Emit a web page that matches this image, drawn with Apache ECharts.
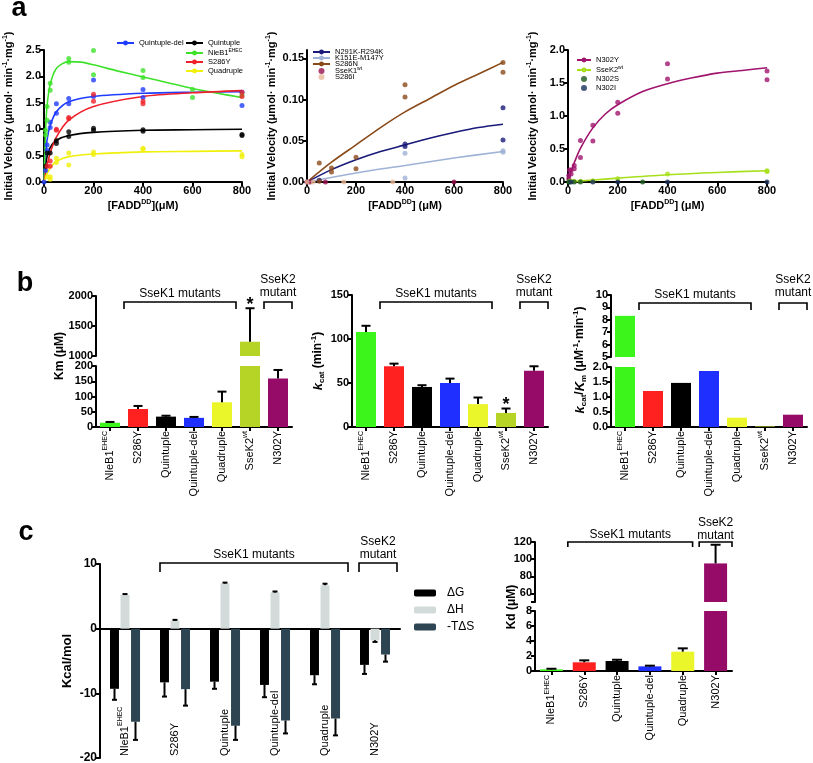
<!DOCTYPE html>
<html>
<head>
<meta charset="utf-8">
<script src="https://cdn.jsdelivr.net/npm/echarts@6.0.0/dist/echarts.min.js"></script>
<style>
html,body{margin:0;padding:0;background:#fff;}
#chart{width:813px;height:763px;}
</style>
</head>
<body>
<div id="chart"></div>
<script>
// ===================== DATA =====================
// ---- Panel a, left: initial velocity vs [FADD-DD] ----
const a1Names = ['Quintuple-del', 'Quintuple', 'NleB1EHEC', 'S286Y', 'Quadruple'];
const a1CurveQuintDel = [[0,0],[6.25,0.45],[12.5,0.8],[25,1.07],[50,1.33],[100,1.52],[200,1.62],[400,1.68],[600,1.70],[800,1.71]];
const a1CurveQuint    = [[0,0],[6.25,0.3],[12.5,0.48],[25,0.65],[50,0.79],[100,0.88],[200,0.94],[400,0.98],[600,0.99],[800,1.0]];
const a1CurveNleB1    = [[0,0],[6.25,0.95],[12.5,1.45],[25,1.85],[50,2.15],[100,2.28],[150,2.27],[200,2.22],[300,2.1],[400,1.99],[500,1.88],[600,1.77],[700,1.68],[800,1.6]];
const a1CurveS286Y    = [[0,0],[12.5,0.32],[25,0.55],[50,0.85],[100,1.17],[200,1.43],[400,1.62],[600,1.69],[800,1.73]];
const a1CurveQuad     = [[0,0],[12.5,0.15],[25,0.27],[50,0.39],[100,0.48],[200,0.53],[400,0.57],[600,0.58],[800,0.59]];
const a1PtsQuintDel = [[0,0],[6.25,0.22],[12.5,0.6],[12.5,0.7],[25,1.03],[25,1.13],[50,1.3],[50,1.48],[100,1.48],[100,1.58],[200,1.93],[200,1.62],[400,1.75],[400,1.6],[800,1.45],[800,1.7]];
const a1PtsQuint    = [[6.25,0.3],[12.5,0.55],[25,0.55],[50,0.78],[50,0.73],[100,0.95],[100,0.86],[200,1.02],[200,0.98],[400,0.99],[400,0.96],[800,0.9],[800,0.88]];
const a1PtsNleB1    = [[6.25,0.98],[6.25,0.89],[12.5,1.17],[12.5,1.43],[25,1.74],[25,1.87],[100,2.34],[100,2.27],[200,2.49],[200,2.03],[400,2.11],[400,1.98],[600,1.75],[600,1.6],[800,1.65]];
const a1PtsS286Y    = [[12.5,0.3],[25,0.3],[25,0.4],[50,0.98],[50,1.0],[100,1.2],[100,1.22],[200,1.66],[200,1.53],[400,1.53],[400,1.48],[800,1.7],[800,1.62]];
const a1PtsQuad     = [[12.5,0.1],[25,0.1],[25,0.05],[50,0.45],[50,0.37],[100,0.55],[100,0.32],[200,0.57],[200,0.52],[400,0.64],[400,0.62],[800,0.52],[800,0.48]];

// ---- Panel a, middle ----
const a2Names = ['N291K-R294K', 'K151E-M147Y', 'S286N', 'SseK1wt', 'S286I'];
const a2CurveN291K = [[0,0],[100,0.015],[200,0.027],[300,0.037],[400,0.045],[500,0.053],[600,0.06],[700,0.066],[800,0.07]];
const a2CurveK151E = [[0,0],[200,0.011],[400,0.02],[600,0.029],[800,0.037]];
const a2CurveS286N = [[0,0],[100,0.024],[200,0.045],[300,0.066],[400,0.085],[500,0.101],[600,0.117],[700,0.131],[800,0.145]];
const a2PtsN291K = [[0,0],[50,0.002],[400,0.046],[400,0.043],[800,0.09],[800,0.051]];
const a2PtsK151E = [[400,0.035],[400,0.005],[800,0.038],[800,0.036]];
const a2PtsS286N = [[50,0.023],[50,0.001],[100,0.017],[100,0.012],[200,0.03],[200,0.016],[400,0.118],[400,0.103],[800,0.145],[800,0.133]];
const a2PtsSseK1 = [[0,0],[12.5,0],[75,0],[600,0]];
const a2PtsS286I = [[0,0],[25,0],[150,0],[350,0]];

// ---- Panel a, right ----
const a3Names = ['N302Y', 'SseK2wt', 'N302S', 'N302I'];
const a3CurveN302Y = [[0,0],[12.5,0.16],[25,0.29],[50,0.51],[100,0.82],[150,1.03],[200,1.17],[300,1.37],[400,1.49],[500,1.58],[600,1.65],[700,1.69],[800,1.73]];
const a3CurveSseK2 = [[0,0],[100,0.03],[200,0.058],[400,0.11],[600,0.145],[800,0.17]];
const a3PtsN302Y = [[3.125,0.1],[3.125,0.05],[6.25,0.18],[12.5,0.12],[12.5,0.18],[25,0.2],[25,0.25],[50,0.63],[50,0.37],[100,0.86],[100,0.62],[200,1.21],[200,1.04],[400,1.79],[400,1.56],[800,1.68],[800,1.55]];
const a3PtsSseK2 = [[6.25,0.01],[12.5,0.01],[25,0.01],[50,0.01],[100,0.02],[200,0.05],[400,0.12],[800,0.16],[800,0.17]];
const a3PtsN302S = [[3.125,0],[6.25,0],[25,0],[50,0],[300,0]];
const a3PtsN302I = [[12.5,0],[100,0],[200,0],[400,0],[800,0]];

// ---- Panel b ----
const bCats    = ['NleB1EHEC', 'S286Y', 'Quintuple', 'Quintuple-del', 'Quadruple', 'SseK2wt', 'N302Y'];
const kmVal    = [14, 59, 34, 30, 81, 1238, 159];
const kmErr    = [16.5, 69, 37, 33, 116, 1796, 187];
const kmStar   = [0, 0, 0, 0, 0, 1, 0];
const kcatVal  = [108, 69, 45.5, 50, 26, 16, 64];
const kcatErr  = [115, 72, 47.5, 55, 33.5, 21, 69];
const kcatStar = [0, 0, 0, 0, 0, 1, 0];
const effVal   = [8.32, 1.2, 1.47, 1.87, 0.31, 0.02, 0.41];

// ---- Panel c ----
const cCats    = ['NleB1EHEC', 'S286Y', 'Quintuple', 'Quintuple-del', 'Quadruple', 'N302Y'];
const dGVal    = [-9.3, -8.3, -8.2, -8.7, -7.2, -5.6];
const dGErr    = [-11.0, -10.5, -9.3, -10.6, -8.6, -7.0];
const dHVal    = [5.2, 1.24, 7.0, 5.6, 6.7, -1.8];
const dHErr    = [5.35, 1.36, 7.12, 5.75, 6.95, -2.05];
const tdSVal   = [-14.4, -9.35, -15.0, -14.2, -13.9, -4.0];
const tdSErr   = [-17.2, -11.9, -17.2, -16.2, -16.5, -5.1];
const kdVal    = [0.22, 1.16, 1.33, 0.62, 2.58, 95];
const kdErr    = [0.3, 1.42, 1.5, 0.71, 3.02, 116.8];

// ===================== STYLE / LAYOUT =====================
const FONT = '"Liberation Sans", Arial, Helvetica, sans-serif';
const a1Colors = ['#1f3cff', '#000000', '#3fe22a', '#f0202a', '#f0f00a'];
const a2Colors = ['#1a1a7a', '#9fb3d6', '#8a4a1a', '#99104f', '#e8b89a'];
const a3Colors = ['#a0146e', '#a6e01a', '#1e5a1e', '#1a2f5a'];
const bColors  = ['#3cf51a', '#ff2020', '#000000', '#1f2fff', '#eaf52a', '#b5d426', '#960a68'];
const kdColors = ['#3cf51a', '#ff2020', '#000000', '#1f2fff', '#eaf52a', '#960a68'];
const cColors  = ['#000000', '#d2dada', '#2d4452'];

const G = {
  a1:  {left:44,  top:50,  width:198, height:132},
  a2:  {left:307, top:50,  width:196, height:132},
  a3:  {left:568, top:50,  width:199, height:132},
  b1u: {left:96,  top:296, width:196, height:60},
  b1l: {left:96,  top:366, width:196, height:61},
  b2:  {left:352, top:295, width:196, height:132},
  b3u: {left:611, top:295, width:196, height:62},
  b3l: {left:611, top:367, width:196, height:60},
  c1:  {left:100, top:564, width:300, height:194},
  c2u: {left:535, top:542, width:197, height:60},
  c2l: {left:535, top:611, width:197, height:60}
};
const gk = Object.keys(G);
const gi = k => gk.indexOf(k);

function merge(a, b) {
  const out = Object.assign({}, a);
  for (const k in b) {
    const bv = b[k], av = a[k];
    if (bv && typeof bv === 'object' && !Array.isArray(bv) && av && typeof av === 'object' && !Array.isArray(av)) out[k] = merge(av, bv);
    else out[k] = bv;
  }
  return out;
}

const sup = {fontSize:7, fontWeight:'bold', fontFamily:FONT, color:'#000', verticalAlign:'top', lineHeight:8};
const axisBase = {
  axisLine: {show:true, onZero:false, lineStyle:{color:'#000', width:2}},
  axisTick: {show:true, length:4, lineStyle:{color:'#000', width:2}},
  axisLabel: {color:'#000', fontSize:11, fontWeight:'bold', fontFamily:FONT, margin:3, formatter:v => String(v)},
  splitLine: {show:false},
  nameTextStyle: {color:'#000', fontSize:11, fontWeight:'bold', fontFamily:FONT, lineHeight:14, rich:{s:sup}}
};
const catRich = {
  n: {fontSize:11, fontFamily:FONT, color:'#000', lineHeight:16},
  s: {fontSize:7, fontFamily:FONT, color:'#000', verticalAlign:'top', lineHeight:9}
};
function catFmt(v) {
  if (v === 'NleB1EHEC') return '{n|NleB1}{s|EHEC}';
  if (v === 'SseK2wt') return '{n|SseK2}{s|wt}';
  return '{n|' + v + '}';
}
function catAxis(g, data, show) {
  return merge(axisBase, {type:'category', gridIndex:g, data:data, show:show,
    axisTick:{alignWithLabel:true},
    axisLabel:{rotate:90, fontWeight:'normal', formatter:catFmt, rich:catRich, margin:4}});
}
function valAxis(g, min, max, extra) {
  return merge(merge(axisBase, {type:'value', gridIndex:g, min:min, max:max}), extra || {});
}
const velName = 'Initial Velocity (μmol· min{s|-1}·mg{s|-1})';
const yNameA = {name:velName, nameLocation:'middle', nameRotate:90, nameGap:28};

const xAxis = [
  valAxis(gi('a1'), 0, 800, {interval:200, name:'[FADD{s|DD}](μM)', nameLocation:'middle', nameGap:17}),
  valAxis(gi('a2'), 0, 800, {interval:200, name:'[FADD{s|DD}] (μM)', nameLocation:'middle', nameGap:17}),
  valAxis(gi('a3'), 0, 800, {interval:200, name:'[FADD{s|DD}] (μM)', nameLocation:'middle', nameGap:17}),
  catAxis(gi('b1u'), bCats, false),
  catAxis(gi('b1l'), bCats, true),
  catAxis(gi('b2'), bCats, true),
  catAxis(gi('b3u'), bCats, false),
  catAxis(gi('b3l'), bCats, true),
  {type:'category', gridIndex:gi('c1'), data:cCats,
   axisLine:{show:true, onZero:true, lineStyle:{color:'#000', width:2}}, axisTick:{show:false}, axisLabel:{show:false}},
  {type:'category', gridIndex:gi('c1'), data:cCats, position:'bottom',
   axisLine:{show:false, onZero:false}, axisTick:{show:false},
   axisLabel:{inside:true, rotate:90, formatter:catFmt, rich:catRich, margin:2, color:'#000'}},
  catAxis(gi('c2u'), cCats, false),
  catAxis(gi('c2l'), cCats, true)
];

const yAxis = [
  valAxis(gi('a1'), 0, 2.5, merge(yNameA, {interval:0.5, axisLabel:{formatter:v => v.toFixed(1)}})),
  valAxis(gi('a2'), 0, 0.16, merge(yNameA, {axisLabel:{customValues:[0,0.05,0.1,0.15], formatter:v => v.toFixed(2)}, axisTick:{customValues:[0,0.05,0.1,0.15]}})),
  valAxis(gi('a3'), 0, 2.0, merge(yNameA, {interval:0.5, axisLabel:{formatter:v => v.toFixed(1)}})),
  valAxis(gi('b1u'), 1000, 2000, {interval:500}),
  valAxis(gi('b1l'), 0, 200, {interval:50}),
  valAxis(gi('b2'), 0, 150, {interval:50, name:'{i|k}{sub|cat} (min{s|-1})', nameLocation:'middle', nameRotate:90, nameGap:26,
    nameTextStyle:{fontSize:12, lineHeight:16, rich:{
      i:{fontStyle:'italic', fontWeight:'bold', fontSize:13, fontFamily:FONT, color:'#000', lineHeight:16},
      sub:{fontSize:8, fontWeight:'bold', fontFamily:FONT, color:'#000', verticalAlign:'bottom', lineHeight:9},
      s:{fontSize:8, fontWeight:'bold', fontFamily:FONT, color:'#000', verticalAlign:'top', lineHeight:9}}}}),
  valAxis(gi('b3u'), 5, 10, {interval:1}),
  valAxis(gi('b3l'), 0, 2, {interval:0.5, axisLabel:{formatter:v => v.toFixed(1)}}),
  valAxis(gi('c1'), -20, 10, {interval:10, name:'Kcal/mol', nameLocation:'middle', nameRotate:90, nameGap:26,
    nameTextStyle:{fontSize:13}, axisLabel:{fontSize:12}}),
  valAxis(gi('c2u'), 50, 120, {axisLabel:{customValues:[60,80,100,120]}, axisTick:{customValues:[50,60,80,100,120]}}),
  valAxis(gi('c2l'), 0, 8, {interval:2})
];

// ===================== SERIES =====================
const series = [];
function addKinetics(ax, names, curves, pts, colors) {
  names.forEach((n, i) => {
    if (curves[i]) series.push({type:'line', name:n, xAxisIndex:ax, yAxisIndex:ax, data:curves[i],
      smooth:0.3, symbol:'circle', symbolSize:5, showSymbol:false,
      lineStyle:{width:1.6, color:colors[i]}, itemStyle:{color:colors[i]}, z:2, silent:true});
  });
  names.forEach((n, i) => {
    series.push({type:'scatter', name:n, xAxisIndex:ax, yAxisIndex:ax, data:pts[i],
      symbolSize:5, itemStyle:{color:colors[i]}, z:3, silent:true});
  });
}
addKinetics(0, a1Names, [a1CurveQuintDel, a1CurveQuint, a1CurveNleB1, a1CurveS286Y, a1CurveQuad],
  [a1PtsQuintDel, a1PtsQuint, a1PtsNleB1, a1PtsS286Y, a1PtsQuad], a1Colors);
addKinetics(1, a2Names, [a2CurveN291K, a2CurveK151E, a2CurveS286N, null, null],
  [a2PtsN291K, a2PtsK151E, a2PtsS286N, a2PtsSseK1, a2PtsS286I], a2Colors);
addKinetics(2, a3Names, [a3CurveN302Y, a3CurveSseK2, null, null],
  [a3PtsN302Y, a3PtsSseK2, a3PtsN302S, a3PtsN302I], a3Colors);

function barData(vals, colors, lo) {
  return vals.map((v, i) => v > lo ? {value:v, itemStyle:{color:colors[i]}} : '-');
}
function addBars(ax, ay, vals, colors, lo, width) {
  series.push({type:'bar', xAxisIndex:ax, yAxisIndex:ay, data:barData(vals, colors, lo),
    barWidth:width, clip:true, silent:true, z:2});
}
function errItems(vals, errs, stars, lo, hi) {
  return vals.map((v, i) => [i, v, errs[i], stars ? stars[i] : 0])
    .filter(d => Math.min(d[1], d[2]) >= lo && Math.max(d[1], d[2]) <= hi);
}
function errRender(capHalf, offset, lw) {
  return function (params, api) {
    const c = api.value(0), lo = api.value(1), hi = api.value(2), star = api.value(3);
    const p1 = api.coord([c, lo]), p2 = api.coord([c, hi]);
    const x = p1[0] + offset;
    const ch = [
      {type:'line', shape:{x1:x, y1:p1[1], x2:x, y2:p2[1]}, style:{stroke:'#000', lineWidth:lw}},
      {type:'line', shape:{x1:x - capHalf, y1:p2[1], x2:x + capHalf, y2:p2[1]}, style:{stroke:'#000', lineWidth:lw}}
    ];
    if (star) ch.push({type:'text', x:x, y:p2[1] - 3,
      style:{text:'*', fontSize:18, fontWeight:'bold', fontFamily:FONT, fill:'#000', align:'center', verticalAlign:'middle'}});
    return {type:'group', children:ch};
  };
}
function addErr(ax, ay, data, capHalf, offset, lw) {
  series.push({type:'custom', xAxisIndex:ax, yAxisIndex:ay, data:data, renderItem:errRender(capHalf, offset, lw || 2), z:5, silent:true});
}

// b1 Km (broken axis)
addBars(3, 3, kmVal, bColors, 1000, 20);
addBars(4, 4, kmVal, bColors, 0, 20);
addErr(3, 3, errItems(kmVal, kmErr, kmStar, 1000, 2000), 4.5, 0);
addErr(4, 4, errItems(kmVal, kmErr, kmStar, 0, 200), 4.5, 0);
// b2 kcat
addBars(5, 5, kcatVal, bColors, 0, 20);
addErr(5, 5, errItems(kcatVal, kcatErr, kcatStar, 0, 150), 4.5, 0);
// b3 kcat/Km (broken axis)
addBars(6, 6, effVal, bColors, 5, 20);
addBars(7, 7, effVal, bColors, 0, 20);

// c1 thermodynamics
const cNames = ['ΔG', 'ΔH', '-TΔS'];
const cVals = [dGVal, dHVal, tdSVal];
const cErrs = [dGErr, dHErr, tdSErr];
cNames.forEach((n, k) => {
  series.push({type:'bar', name:n, xAxisIndex:8, yAxisIndex:8, data:cVals[k], barWidth:9, barGap:'17%',
    itemStyle:{color:cColors[k]}, silent:true, z:2});
});
cNames.forEach((n, k) => addErr(8, 8, errItems(cVals[k], cErrs[k], null, -20, 10), 2.5, (k - 1) * 10.5, 2));
// c2 Kd (broken axis)
addBars(10, 9, kdVal, kdColors, 50, 23);
addBars(11, 10, kdVal, kdColors, 0, 23);
addErr(10, 9, errItems(kdVal, kdErr, null, 50, 120), 5, 0);
addErr(11, 10, errItems(kdVal, kdErr, null, 0, 8), 5, 0);

// ===================== LEGENDS =====================
const legRich = {
  n:{fontSize:7.5, fontFamily:FONT, color:'#000', lineHeight:10},
  s:{fontSize:5, fontFamily:FONT, color:'#000', verticalAlign:'top', lineHeight:6}
};
function legFmt(name) {
  if (name === 'NleB1EHEC') return '{n|NleB1}{s|EHEC}';
  if (name === 'SseK1wt') return '{n|SseK1}{s|wt}';
  if (name === 'SseK2wt') return '{n|SseK2}{s|wt}';
  return '{n|' + name + '}';
}
const legBase = {selectedMode:false, padding:0, itemWidth:17, itemHeight:6, orient:'vertical', itemGap:1,
  formatter:legFmt, textStyle:{fontSize:7.5, fontFamily:FONT, color:'#000', rich:legRich}};
const legend = [
  merge(legBase, {data:['Quintuple-del'], left:116, top:39}),
  merge(legBase, {data:['Quintuple', 'NleB1EHEC', 'S286Y', 'Quadruple'], left:185, top:39}),
  merge(legBase, {data:a2Names, left:312, top:48, itemGap:-2}),
  merge(legBase, {data:a3Names, left:576, top:56, itemWidth:14}),
  {data:cNames, left:414, top:587, orient:'vertical', itemWidth:22, itemHeight:7, itemGap:5, selectedMode:false, padding:0,
   textStyle:{fontSize:12, fontFamily:FONT, color:'#000', padding:[0, 0, 0, 6]}}
];

// ===================== ANNOTATIONS =====================
const graphic = [];
function txt(x, y, text, st, rot) {
  graphic.push({type:'text', x:x, y:y, rotation:rot || 0, silent:true,
    style:Object.assign({text:text, fill:'#000', fontFamily:FONT, fontSize:12, align:'center', verticalAlign:'middle'}, st || {})});
}
function bracket(x1, x2, yTop, yBot) {
  graphic.push({type:'polyline', silent:true, shape:{points:[[x1, yBot], [x1, yTop], [x2, yTop], [x2, yBot]]},
    style:{stroke:'#000', lineWidth:1.6, fill:null}});
}
function slot(key, n) { return G[key].width / n; }
function edge(key, n, i) { return G[key].left + i * slot(key, n); }

// panel letters
txt(19, 9, 'a', {fontSize:27, fontWeight:'bold'});
txt(25, 284, 'b', {fontSize:27, fontWeight:'bold'});
txt(26, 533, 'c', {fontSize:27, fontWeight:'bold'});

// b brackets
[['b1u', 0], ['b2', 0], ['b3u', 1]].forEach(([k, dy]) => {
  const x1 = edge(k, 7, 1), x2 = edge(k, 7, 5), x3 = edge(k, 7, 6), x4 = edge(k, 7, 7);
  bracket(x1, x2, 302 + dy, 309 + dy);
  bracket(x3, x4, 302 + dy, 309 + dy);
  txt((x1 + x2) / 2, 294 + dy, 'SseK1 mutants');
  txt((x3 + x4) / 2, 280, 'SseK2');
  txt((x3 + x4) / 2, 293, 'mutant');
});
// c1 brackets
{
  const s = slot('c1', 6), c = i => G.c1.left + (i + 0.5) * s;
  bracket(c(1) - 0.3 * s, c(4) + 0.46 * s, 563, 572);
  bracket(c(5) - 0.32 * s, c(5) + 0.44 * s, 563, 572);
  txt((c(1) - 0.3 * s + c(4) + 0.46 * s) / 2, 555, 'SseK1 mutants');
  txt(c(5) + 0.06 * s, 542, 'SseK2');
  txt(c(5) + 0.06 * s, 555, 'mutant');
}
// c2 brackets
{
  const s = slot('c2u', 6);
  const x1 = edge('c2u', 6, 1), x2 = edge('c2u', 6, 5) - 0.2 * s, x3 = edge('c2u', 6, 5), x4 = edge('c2u', 6, 6);
  bracket(x1, x2, 542, 547);
  bracket(x3, x4, 542, 547);
  txt((x1 + x2) / 2, 535, 'SseK1 mutants');
  txt((x3 + x4) / 2, 523, 'SseK2');
  txt((x3 + x4) / 2, 536, 'mutant');
}
// broken-axis titles
const titleRich = {
  i:{fontStyle:'italic', fontWeight:'bold', fontSize:13, fontFamily:FONT, fill:'#000', lineHeight:16},
  sub:{fontSize:8, fontWeight:'bold', fontFamily:FONT, fill:'#000', verticalAlign:'bottom', lineHeight:9},
  s:{fontSize:8, fontWeight:'bold', fontFamily:FONT, fill:'#000', verticalAlign:'top', lineHeight:9}
};
txt(60, 356, 'Km (μM)', {fontWeight:'bold', fontSize:12}, Math.PI / 2);
txt(580, 360, '{i|k}{sub|cat}/{i|K}{sub|m} (μM{s|-1}·min{s|-1})', {fontWeight:'bold', fontSize:12, lineHeight:16, rich:titleRich}, Math.PI / 2);
txt(512, 607, 'Kd (μM)', {fontWeight:'bold', fontSize:12}, Math.PI / 2);

// ===================== CHART =====================
const chart = echarts.init(document.getElementById('chart'), null, {renderer:'canvas'});
chart.setOption({
  animation:false,
  backgroundColor:'#ffffff',
  textStyle:{fontFamily:FONT},
  grid:gk.map(k => Object.assign({outerBoundsMode:'none', containLabel:false, show:false}, G[k])),
  xAxis:xAxis,
  yAxis:yAxis,
  legend:legend,
  series:series,
  graphic:graphic
});
</script>
</body>
</html>
